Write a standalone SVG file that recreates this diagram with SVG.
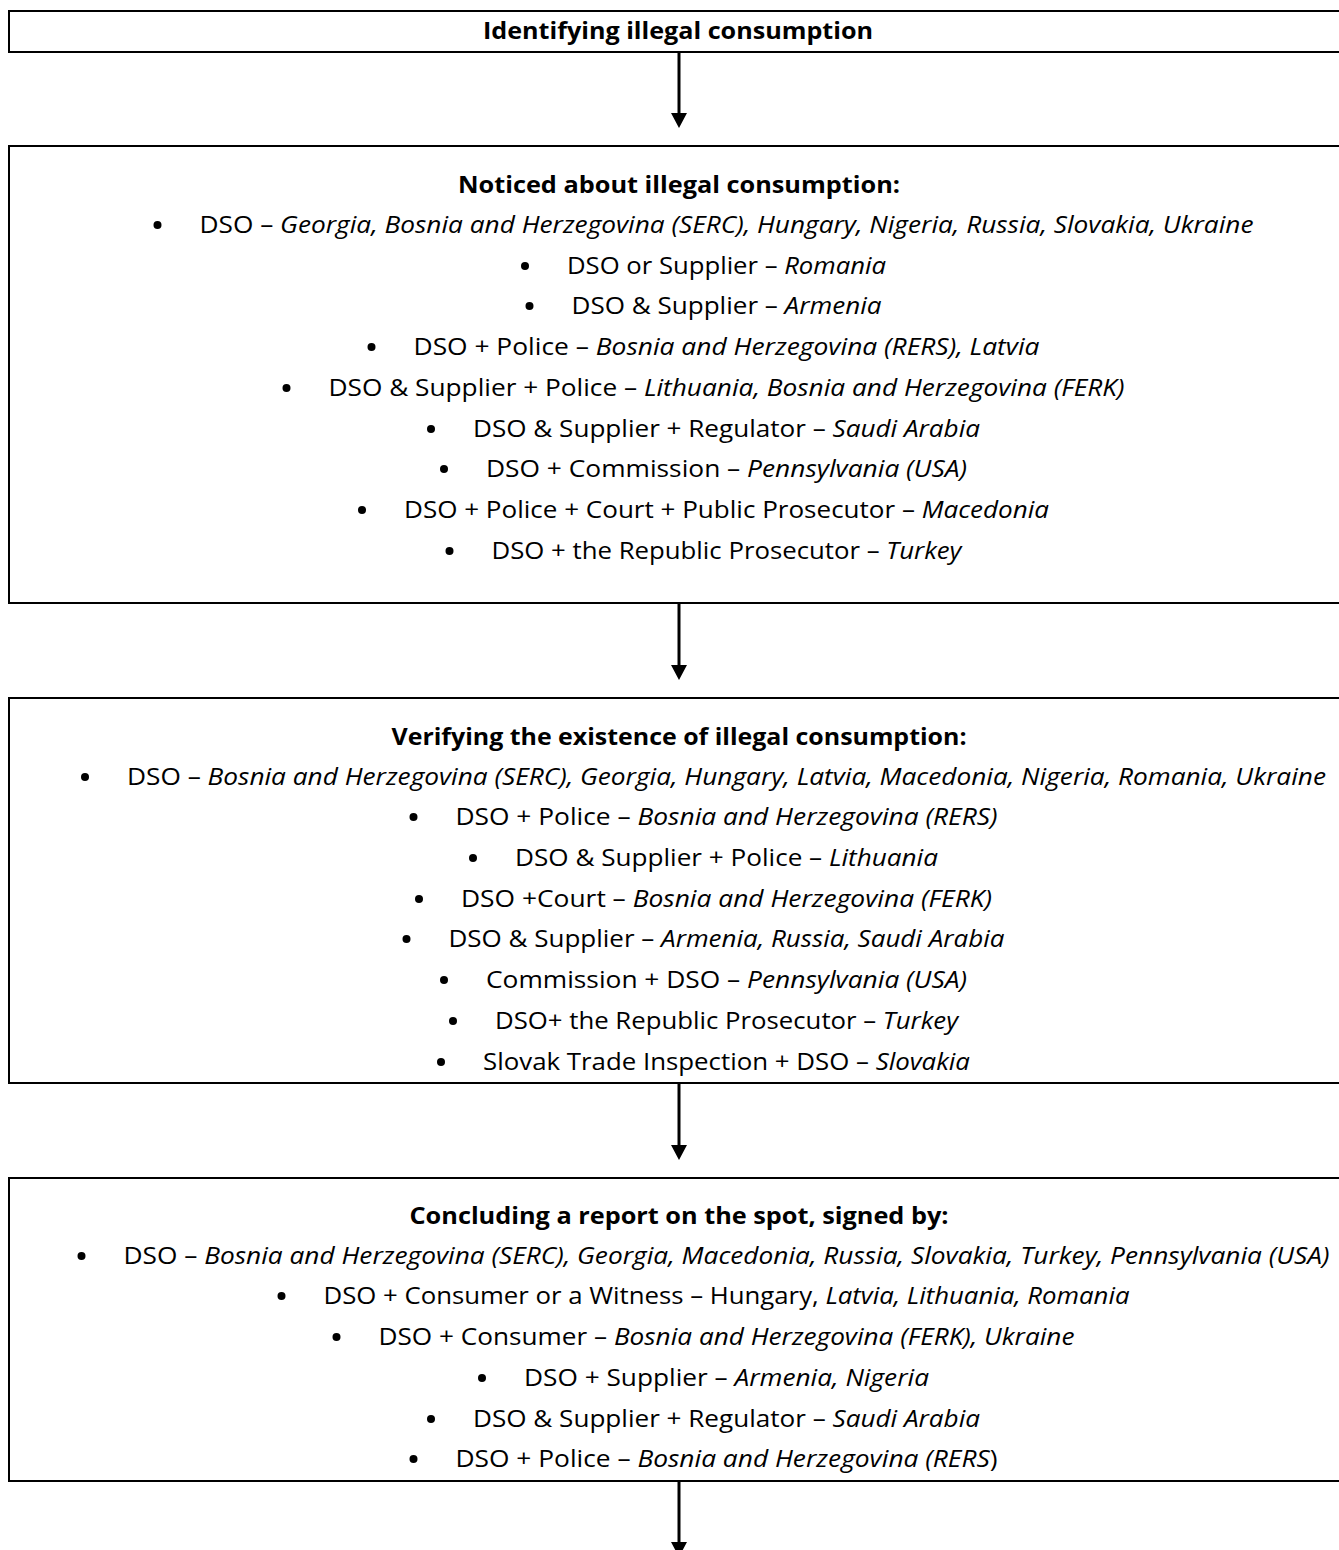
<svg xmlns="http://www.w3.org/2000/svg" width="1339" height="1550" viewBox="0 0 1339 1550">
<style>
.box{fill:#fff;stroke:#000;stroke-width:2}
.t{font-family:"Open Sans","Noto Sans","DejaVu Sans",sans-serif;font-size:23px;fill:#000}
.h{font-weight:bold;text-anchor:middle;font-size:24px}
.b{text-anchor:middle}
.i{font-style:italic}
.dot{fill:#000}
.conn{stroke:#000;stroke-width:3;fill:none;marker-end:url(#ah)}
</style>
<defs>
<marker id="ah" markerUnits="userSpaceOnUse" markerWidth="16" markerHeight="16" refX="0" refY="8" orient="auto" viewBox="0 0 15 16"><path d="M0,0 L15,8 L0,16 z" fill="#000"/></marker>
</defs>
<rect width="1339" height="1550" fill="#fff"/>
<g id="connectors">
<line class="conn" x1="679" y1="53" x2="679" y2="113"/>
<line class="conn" x1="679" y1="604" x2="679" y2="665"/>
<line class="conn" x1="679" y1="1084" x2="679" y2="1145"/>
<line class="conn" x1="679" y1="1482" x2="679" y2="1542"/>
</g>
<g id="n1">
<rect class="box" x="9" y="11" width="1345" height="41"/>
<text class="t h" x="678" y="39" textLength="390" lengthAdjust="spacingAndGlyphs">Identifying illegal consumption</text>
</g>
<g id="n2">
<rect class="box" x="9" y="146" width="1345" height="457"/>
<text class="t h" x="679" y="193" textLength="442" lengthAdjust="spacingAndGlyphs">Noticed about illegal consumption:</text>
<circle class="dot" cx="157.5" cy="225" r="4"/>
<text class="t b" x="726.5" y="233" textLength="1054" lengthAdjust="spacingAndGlyphs">DSO – <tspan class="i">Georgia, Bosnia and Herzegovina (SERC), Hungary, Nigeria, Russia, Slovakia, Ukraine</tspan></text>
<circle class="dot" cx="525" cy="266" r="4"/>
<text class="t b" x="726.5" y="274" textLength="319" lengthAdjust="spacingAndGlyphs">DSO or Supplier – <tspan class="i">Romania</tspan></text>
<circle class="dot" cx="529.5" cy="306" r="4"/>
<text class="t b" x="726.5" y="314" textLength="310" lengthAdjust="spacingAndGlyphs">DSO &amp; Supplier – <tspan class="i">Armenia</tspan></text>
<circle class="dot" cx="371.5" cy="347" r="4"/>
<text class="t b" x="726.5" y="355" textLength="626" lengthAdjust="spacingAndGlyphs">DSO + Police – <tspan class="i">Bosnia and Herzegovina (RERS), Latvia</tspan></text>
<circle class="dot" cx="286.5" cy="388" r="4"/>
<text class="t b" x="726.5" y="396" textLength="796" lengthAdjust="spacingAndGlyphs">DSO &amp; Supplier + Police – <tspan class="i">Lithuania, Bosnia and Herzegovina (FERK)</tspan></text>
<circle class="dot" cx="431" cy="429" r="4"/>
<text class="t b" x="726.5" y="437" textLength="507" lengthAdjust="spacingAndGlyphs">DSO &amp; Supplier + Regulator – <tspan class="i">Saudi Arabia</tspan></text>
<circle class="dot" cx="444" cy="469" r="4"/>
<text class="t b" x="726.5" y="477" textLength="481" lengthAdjust="spacingAndGlyphs">DSO + Commission – <tspan class="i">Pennsylvania (USA)</tspan></text>
<circle class="dot" cx="362" cy="510" r="4"/>
<text class="t b" x="726.5" y="518" textLength="645" lengthAdjust="spacingAndGlyphs">DSO + Police + Court + Public Prosecutor – <tspan class="i">Macedonia</tspan></text>
<circle class="dot" cx="449.5" cy="551" r="4"/>
<text class="t b" x="726.5" y="559" textLength="470" lengthAdjust="spacingAndGlyphs">DSO + the Republic Prosecutor – <tspan class="i">Turkey</tspan></text>
</g>
<g id="n3">
<rect class="box" x="9" y="698" width="1345" height="385"/>
<text class="t h" x="679" y="745" textLength="575" lengthAdjust="spacingAndGlyphs">Verifying the existence of illegal consumption:</text>
<circle class="dot" cx="85" cy="777" r="4"/>
<text class="t b" x="726.5" y="785" textLength="1199" lengthAdjust="spacingAndGlyphs">DSO – <tspan class="i">Bosnia and Herzegovina (SERC), Georgia, Hungary, Latvia, Macedonia, Nigeria, Romania, Ukraine</tspan></text>
<circle class="dot" cx="413.5" cy="817" r="4"/>
<text class="t b" x="726.5" y="825" textLength="542" lengthAdjust="spacingAndGlyphs">DSO + Police – <tspan class="i">Bosnia and Herzegovina (RERS)</tspan></text>
<circle class="dot" cx="473" cy="858" r="4"/>
<text class="t b" x="726.5" y="866" textLength="423" lengthAdjust="spacingAndGlyphs">DSO &amp; Supplier + Police – <tspan class="i">Lithuania</tspan></text>
<circle class="dot" cx="419" cy="899" r="4"/>
<text class="t b" x="726.5" y="907" textLength="531" lengthAdjust="spacingAndGlyphs">DSO +Court – <tspan class="i">Bosnia and Herzegovina (FERK)</tspan></text>
<circle class="dot" cx="406.5" cy="939" r="4"/>
<text class="t b" x="726.5" y="947" textLength="556" lengthAdjust="spacingAndGlyphs">DSO &amp; Supplier – <tspan class="i">Armenia, Russia, Saudi Arabia</tspan></text>
<circle class="dot" cx="444" cy="980" r="4"/>
<text class="t b" x="726.5" y="988" textLength="481" lengthAdjust="spacingAndGlyphs">Commission + DSO – <tspan class="i">Pennsylvania (USA)</tspan></text>
<circle class="dot" cx="453" cy="1021" r="4"/>
<text class="t b" x="726.5" y="1029" textLength="463" lengthAdjust="spacingAndGlyphs">DSO+ the Republic Prosecutor – <tspan class="i">Turkey</tspan></text>
<circle class="dot" cx="441" cy="1062" r="4"/>
<text class="t b" x="726.5" y="1070" textLength="487" lengthAdjust="spacingAndGlyphs">Slovak Trade Inspection + DSO – <tspan class="i">Slovakia</tspan></text>
</g>
<g id="n4">
<rect class="box" x="9" y="1178" width="1345" height="303"/>
<text class="t h" x="679" y="1224" textLength="539" lengthAdjust="spacingAndGlyphs">Concluding a report on the spot, signed by:</text>
<circle class="dot" cx="81.5" cy="1256" r="4"/>
<text class="t b" x="726.5" y="1264" textLength="1206" lengthAdjust="spacingAndGlyphs">DSO – <tspan class="i">Bosnia and Herzegovina (SERC), Georgia, Macedonia, Russia, Slovakia, Turkey, Pennsylvania (USA)</tspan></text>
<circle class="dot" cx="281.5" cy="1296" r="4"/>
<text class="t b" x="726.5" y="1304" textLength="806" lengthAdjust="spacingAndGlyphs">DSO + Consumer or a Witness – Hungary, <tspan class="i">Latvia, Lithuania, Romania</tspan></text>
<circle class="dot" cx="336.5" cy="1337" r="4"/>
<text class="t b" x="726.5" y="1345" textLength="696" lengthAdjust="spacingAndGlyphs">DSO + Consumer – <tspan class="i">Bosnia and Herzegovina (FERK), Ukraine</tspan></text>
<circle class="dot" cx="482" cy="1378" r="4"/>
<text class="t b" x="726.5" y="1386" textLength="405" lengthAdjust="spacingAndGlyphs">DSO + Supplier – <tspan class="i">Armenia, Nigeria</tspan></text>
<circle class="dot" cx="431" cy="1419" r="4"/>
<text class="t b" x="726.5" y="1427" textLength="507" lengthAdjust="spacingAndGlyphs">DSO &amp; Supplier + Regulator – <tspan class="i">Saudi Arabia</tspan></text>
<circle class="dot" cx="413.5" cy="1459" r="4"/>
<text class="t b" x="726.5" y="1467" textLength="542" lengthAdjust="spacingAndGlyphs">DSO + Police – <tspan class="i">Bosnia and Herzegovina (RERS</tspan>)</text>
</g>
</svg>
